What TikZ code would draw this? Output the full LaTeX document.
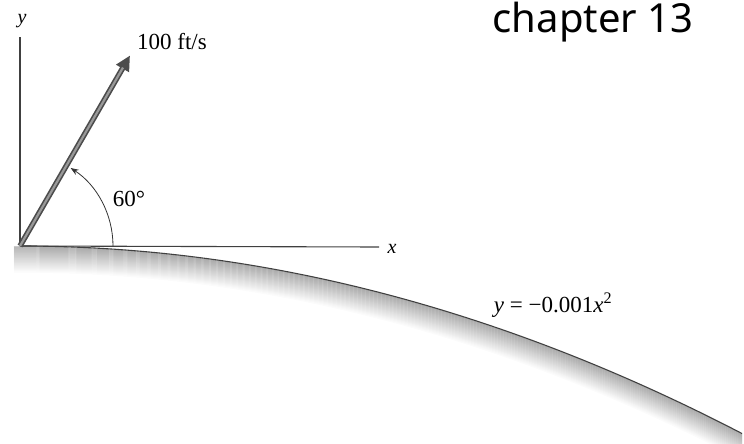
\documentclass[tikz,border=0pt]{standalone}
\usepackage{fontspec}
\setmainfont{Liberation Serif}
\newfontfamily\chapfont{Noto Sans}
\usetikzlibrary{arrows.meta,calc}
\begin{document}
\begin{tikzpicture}[x=1pt,y=1pt,
  axisline/.style={line width=1.1pt,black!75},
  lbl/.style={inner sep=0pt,font=\fontsize{23}{26}\selectfont},
  arcline/.style={line width=0.8pt,black!80,-{Stealth[length=8pt,width=6pt]}}]
\useasboundingbox (0,0) rectangle (744,-444);
\coordinate (O) at (20,-246);
\coordinate (ytop) at (20,-37);
\coordinate (xend) at (379,-247);
\coordinate (tip) at ($(O)+(60:220)$);
% ground shading
\foreach \i in {1,...,26}{
  \pgfmathsetmacro{\g}{max(0,34-1.25*\i)}
  \draw[line width=1.2pt,black!\g] plot[domain=14:742,samples=70]
    (\x,{-(246+(0.018974*(\x-20))^2)-\i});
}
% ground line
\draw[line width=1.1pt,black!75] plot[domain=20:742,samples=70]
  (\x,{-(246+(0.018974*(\x-20))^2)});
% axes
\draw[axisline] (O) -- (ytop);
\draw[axisline] (O) -- (xend);
\node[lbl,font=\fontsize{20}{24}\selectfont\itshape] (ylab) at (22,-21) {y};
\node[lbl,font=\fontsize{20}{24}\selectfont\itshape] (xlab) at (392,-249) {x};
% velocity arrow
\draw[line width=5.5pt,black!70,-{Triangle[length=15pt,width=14pt]}] (O) -- (tip);
\draw[line width=2.2pt,black!40,shorten >=14pt] (O) -- (tip);
% angle arc
\draw[arcline] ($(O)+(0:93)$) arc[start angle=0,end angle=57,radius=93];
\node[lbl] (vlab) at (172,-42) {100 ft/s};
\node[lbl] (alab) at (129,-199) {60°};
\node[lbl] (plab) at (553,-305) {\textit{y} = −0.001\textit{x}\textsuperscript{2}};
\node[inner sep=0pt,font=\chapfont\fontsize{40}{42}\selectfont] (chap) at (593,-22) {chapter 13};
\end{tikzpicture}
\end{document}
